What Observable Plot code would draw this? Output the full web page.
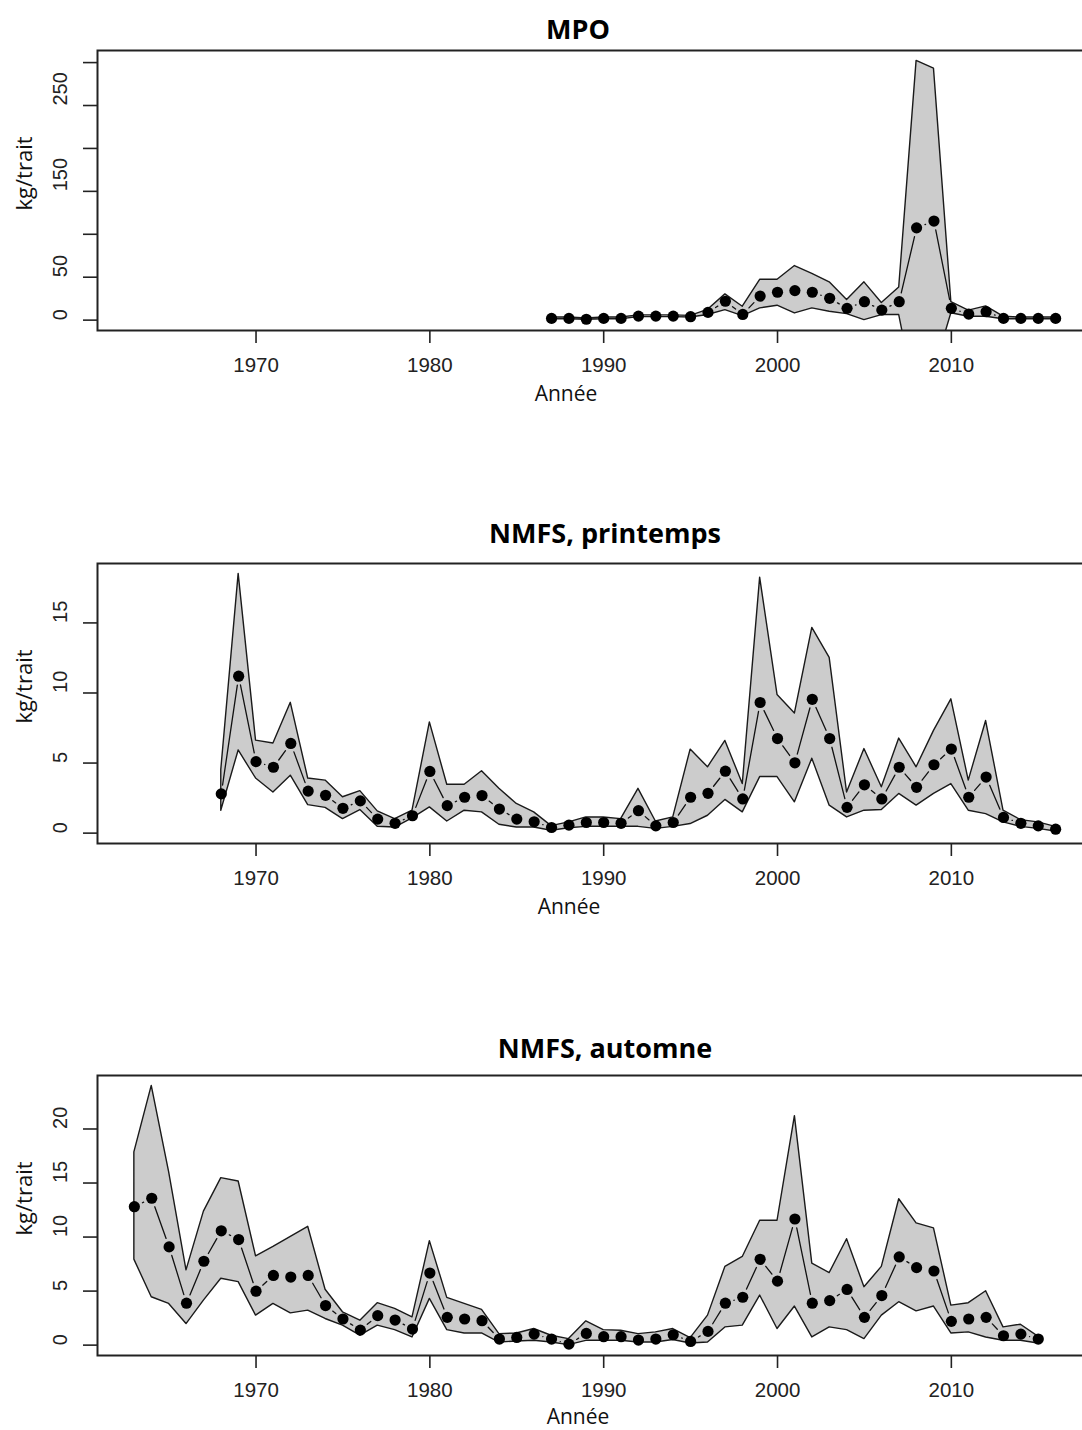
<!DOCTYPE html>
<html>
<head>
<meta charset="utf-8">
<script src="https://cdn.jsdelivr.net/npm/d3@7"></script>
<script src="https://cdn.jsdelivr.net/npm/@observablehq/plot@0.6"></script>
<style>
html, body { margin: 0; padding: 0; background: #fff; overflow: hidden; }
#chart { width: 1082px; height: 1430px; overflow: hidden; }
#chart svg { display: block; }
</style>
</head>
<body>
<div id="chart"></div>
<script>
// ---------- Data ----------
const titles = ["MPO", "NMFS, printemps", "NMFS, automne"];
const yLabel = "kg/trait";
const xLabel = "Année";
const xTicks = [1970, 1980, 1990, 2000, 2010];

// MPO
const mpoYears = [1987,1988,1989,1990,1991,1992,1993,1994,1995,1996,1997,1998,1999,2000,2001,2002,2003,2004,2005,2006,2007,2008,2009,2010,2011,2012,2013,2014,2015,2016];
const mpoMean  = [2,2,1,2,2,4.7,4.7,4.7,4,9,22,6.6,28,32.5,34.4,32.5,25.4,13.7,21.5,11.7,21.5,107.5,115.4,13.7,7,9.8,2,2,2,2];
const mpoUpper = [3,3,2,3,3,5.5,5.5,5.5,5,12,30,15.6,47,47,63,54,44,23.5,44,20,38,302,293,21,11,16,4,3,3,3];
const mpoLower = [1,1,0.5,1,1,3.5,3.5,3.5,3,6,11.7,4.7,13.7,16.8,7.8,13.7,9.8,7,0,5.9,5.9,-95,-60,8,4,4,1,1,1,1];
const mpoYTicks = [0,50,100,150,200,250,300];
const mpoYLabels = [0,50,150,250];

// NMFS, printemps
const sprYears = [1968,1969,1970,1971,1972,1973,1974,1975,1976,1977,1978,1979,1980,1981,1982,1983,1984,1985,1986,1987,1988,1989,1990,1991,1992,1993,1994,1995,1996,1997,1998,1999,2000,2001,2002,2003,2004,2005,2006,2007,2008,2009,2010,2011,2012,2013,2014,2015,2016];
const sprMean  = [2.8,11.2,5.1,4.7,6.4,3.0,2.7,1.77,2.3,1.0,0.7,1.24,4.4,1.96,2.56,2.68,1.72,1.0,0.81,0.4,0.57,0.76,0.76,0.7,1.6,0.52,0.76,2.56,2.84,4.42,2.44,9.32,6.75,5.02,9.55,6.75,1.84,3.45,2.44,4.7,3.27,4.88,6.0,2.56,4.0,1.12,0.7,0.52,0.28];
const sprUpper = [4.5,18.5,6.6,6.4,9.3,3.9,3.75,2.56,3.0,1.55,1.0,1.6,7.9,3.45,3.45,4.42,3.16,2.08,1.48,0.5,0.77,1.12,1.12,1.0,3.16,0.83,1.12,5.96,4.7,6.58,3.5,18.23,9.86,8.54,14.64,12.5,2.9,6.0,3.27,6.75,4.7,7.3,9.55,3.75,8.0,1.6,0.93,0.77,0.45];
const sprLower = [1.6,5.9,3.9,2.9,4.1,2.0,1.8,1.0,1.65,0.45,0.4,1.05,1.84,0.83,1.6,1.48,0.6,0.4,0.4,0.17,0.35,0.45,0.45,0.45,0.45,0.3,0.45,0.65,1.24,2.37,1.48,4.0,4.0,2.2,5.31,1.96,1.12,1.6,1.65,2.8,1.96,2.8,3.5,1.6,1.36,0.77,0.45,0.3,0.12];
const sprYTicks = [0,5,10,15];
const sprYLabels = [0,5,10,15];

// NMFS, automne
const autYears = [1963,1964,1965,1966,1967,1968,1969,1970,1971,1972,1973,1974,1975,1976,1977,1978,1979,1980,1981,1982,1983,1984,1985,1986,1987,1988,1989,1990,1991,1992,1993,1994,1995,1996,1997,1998,1999,2000,2001,2002,2003,2004,2005,2006,2007,2008,2009,2010,2011,2012,2013,2014,2015];
const autMean  = [12.81,13.59,9.09,3.88,7.76,10.58,9.77,4.99,6.45,6.30,6.45,3.66,2.42,1.39,2.73,2.32,1.49,6.67,2.57,2.42,2.26,0.56,0.71,1.02,0.56,0.09,1.08,0.78,0.78,0.47,0.56,0.96,0.34,1.27,3.88,4.43,7.94,5.92,11.67,3.88,4.12,5.15,2.57,4.59,8.16,7.17,6.86,2.20,2.42,2.57,0.87,1.02,0.56];
const autUpper = [17.84,23.99,16.0,6.92,12.35,15.45,15.14,8.22,9.09,10.02,10.95,5.12,3.04,2.26,3.88,3.35,2.57,9.62,4.37,3.81,3.26,1.02,1.08,1.49,0.87,0.56,2.20,1.39,1.33,1.02,1.18,1.49,0.65,2.73,7.24,8.16,11.51,11.51,21.19,7.54,6.67,9.80,5.36,7.24,13.50,11.26,10.80,3.66,3.88,4.99,1.64,1.89,0.78];
const autLower = [7.91,4.43,3.81,1.95,4.12,6.14,5.83,2.73,3.81,2.94,3.19,2.42,1.80,0.87,1.80,1.39,0.71,4.28,1.39,1.08,1.08,0.24,0.34,0.40,0.24,0.0,0.40,0.40,0.40,0.24,0.24,0.47,0.15,0.24,1.64,1.80,4.59,1.49,3.57,0.71,1.64,1.39,0.56,2.73,3.97,3.13,3.57,1.08,1.18,0.71,0.40,0.40,0.15];
const autYTicks = [0,5,10,15,20];
const autYLabels = [0,5,10,15,20];

// ---------- Shared x scale (R-style 4% padding over all years) ----------
const allYears = mpoYears.concat(sprYears, autYears);
const xMin = d3.min(allYears), xMax = d3.max(allYears);
const xPad = 0.04 * (xMax - xMin);
const xDomain = [xMin - xPad, xMax + xPad];

const tickFont = "'Liberation Sans', Arial, Helvetica, sans-serif";
const labelFont = "'Open Sans', 'Noto Sans', sans-serif";

function panel(o) {
  const data = o.years.map((year, i) => ({year, mean: o.mean[i], lower: o.lower[i], upper: o.upper[i]}));
  // consecutive pairs for R type="b" style segments (gaps around points)
  const segs = data.slice(1).map((d, i) => ({x1: data[i].year, y1: data[i].mean, x2: d.year, y2: d.mean}));
  const M = d3.max(o.upper);
  const yDomain = [-0.04 * M, 1.04 * M];
  return Plot.plot({
    width: 1082,
    height: o.height,
    marginLeft: 97,
    marginRight: -10,
    marginTop: 50,
    marginBottom: o.marginBottom,
    style: {fontFamily: tickFont, background: "white"},
    x: {domain: xDomain},
    y: {domain: yDomain},
    marks: [
      Plot.areaY(data, {x: "year", y1: "lower", y2: "upper", fill: "#cccccc", stroke: "#1a1a1a", strokeWidth: 1.4, clip: true}),
      Plot.arrow(segs, {x1: "x1", y1: "y1", x2: "x2", y2: "y2", insetStart: 9, insetEnd: 9, headLength: 0, stroke: "#111", strokeWidth: 1.3, clip: true}),
      Plot.dot(data, {x: "year", y: "mean", r: 5.6, fill: "#000"}),
      Plot.frame({stroke: "#222", strokeWidth: 2}),
      Plot.axisY({ticks: o.yTicks, tickSize: 14, tickFormat: () => "", label: null, strokeWidth: 1.6, stroke: "#222"}),
      Plot.text(o.yLabels, {y: d => d, text: d => String(d), frameAnchor: "left", dx: -37, rotate: -90, fontSize: 20, fill: "#222"}),
      Plot.axisX({ticks: xTicks, tickSize: 13, tickPadding: 14, tickFormat: d => String(d), label: null, fontSize: 20.5, strokeWidth: 1.6, stroke: "#222", fill: "#222"}),
      Plot.text([yLabel], {frameAnchor: "left", text: d => d, rotate: -90, dx: -73, dy: 20, fontSize: 22, fontFamily: labelFont, fill: "#111"}),
      Plot.text([xLabel], {frameAnchor: "bottom", text: d => d, dx: o.xlabDx, dy: o.xlabDy, lineAnchor: "bottom", fontSize: 21, fontFamily: labelFont, fill: "#111"}),
      Plot.text([o.title], {frameAnchor: "top", text: d => d, dx: o.titleDx, dy: o.titleDy, lineAnchor: "bottom", fontSize: 27, fontWeight: "bold", fontFamily: labelFont, fill: "#000"})
    ]
  });
}

const chart = document.getElementById("chart");
chart.appendChild(panel({title: titles[0], years: mpoYears, mean: mpoMean, upper: mpoUpper, lower: mpoLower, yTicks: mpoYTicks, yLabels: mpoYLabels, height: 513, marginBottom: 183, titleDx: -17, titleDy: -12, xlabDx: -29, xlabDy: 70}));
chart.appendChild(panel({title: titles[1], years: sprYears, mean: sprMean, upper: sprUpper, lower: sprLower, yTicks: sprYTicks, yLabels: sprYLabels, height: 512, marginBottom: 182, titleDx: 10, titleDy: -21, xlabDx: -26, xlabDy: 70}));
chart.appendChild(panel({title: titles[2], years: autYears, mean: autMean, upper: autUpper, lower: autLower, yTicks: autYTicks, yLabels: autYLabels, height: 405, marginBottom: 75, titleDx: 10, titleDy: -18, xlabDx: -17, xlabDy: 68.6}));
</script>
</body>
</html>
